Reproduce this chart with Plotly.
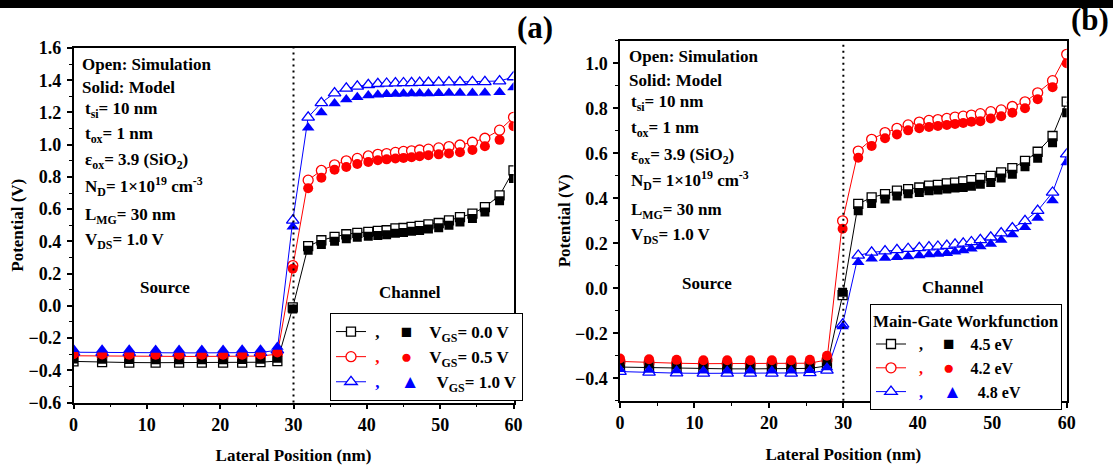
import plotly.graph_objects as go

W, H = 1113, 465
FONT = "Liberation Serif, Times New Roman, DejaVu Serif, serif"

# ---------------- data ----------------
X = [0, 3.9, 7.6, 11.2, 14.4, 17.5, 20.4, 23.0, 25.5, 27.8, 29.9,
     32.0, 33.8, 35.6, 37.2, 38.7, 40.2, 41.5, 42.7, 43.9, 45.0,
     46.1, 47.2, 48.4, 49.8, 51.2, 52.7, 54.4, 56.1, 58.1, 60.0]

# panel (a): VGS sweep, simulation (open) and model (solid)
a_sim_00 = [-0.345, -0.350, -0.352, -0.353, -0.353, -0.353, -0.353, -0.352, -0.350, -0.343, -0.010,
            0.370, 0.407, 0.428, 0.444, 0.453, 0.459, 0.465, 0.469, 0.480, 0.483,
            0.490, 0.496, 0.506, 0.514, 0.530, 0.550, 0.572, 0.613, 0.685, 0.840]
a_mod_00 = [-0.330, -0.332, -0.333, -0.334, -0.334, -0.334, -0.334, -0.333, -0.332, -0.325, -0.020,
            0.345, 0.380, 0.400, 0.416, 0.425, 0.431, 0.437, 0.441, 0.450, 0.455,
            0.462, 0.468, 0.477, 0.485, 0.500, 0.520, 0.542, 0.582, 0.652, 0.790]
a_sim_05 = [-0.310, -0.312, -0.313, -0.314, -0.314, -0.314, -0.314, -0.313, -0.312, -0.300, 0.250,
            0.780, 0.840, 0.875, 0.900, 0.915, 0.930, 0.940, 0.945, 0.952, 0.958,
            0.962, 0.967, 0.972, 0.980, 0.988, 0.998, 1.015, 1.040, 1.090, 1.170]
a_mod_05 = [-0.300, -0.302, -0.303, -0.304, -0.304, -0.304, -0.304, -0.303, -0.302, -0.290, 0.230,
            0.730, 0.795, 0.845, 0.862, 0.880, 0.893, 0.903, 0.909, 0.914, 0.918,
            0.922, 0.928, 0.934, 0.940, 0.946, 0.953, 0.967, 0.990, 1.030, 1.115]
a_sim_10 = [-0.288, -0.290, -0.291, -0.292, -0.292, -0.292, -0.292, -0.291, -0.290, -0.275, 0.530,
            1.170, 1.260, 1.320, 1.350, 1.362, 1.372, 1.378, 1.380, 1.382, 1.383,
            1.384, 1.385, 1.386, 1.387, 1.388, 1.389, 1.390, 1.390, 1.395, 1.420]
a_mod_10 = [-0.270, -0.272, -0.273, -0.274, -0.274, -0.274, -0.274, -0.273, -0.272, -0.255, 0.490,
            1.105, 1.200, 1.255, 1.280, 1.295, 1.305, 1.310, 1.313, 1.315, 1.316,
            1.317, 1.318, 1.318, 1.319, 1.320, 1.320, 1.321, 1.322, 1.325, 1.355]

# panel (b): main-gate workfunction sweep
b_sim_45 = [-0.350, -0.353, -0.356, -0.358, -0.358, -0.358, -0.358, -0.358, -0.356, -0.345, -0.030,
            0.375, 0.404, 0.419, 0.434, 0.441, 0.448, 0.456, 0.460, 0.466, 0.470,
            0.475, 0.481, 0.490, 0.500, 0.515, 0.534, 0.566, 0.607, 0.677, 0.830]
b_mod_45 = [-0.335, -0.338, -0.340, -0.342, -0.342, -0.342, -0.342, -0.342, -0.340, -0.328, -0.018,
            0.345, 0.377, 0.397, 0.410, 0.420, 0.426, 0.434, 0.437, 0.441, 0.446,
            0.448, 0.454, 0.463, 0.470, 0.490, 0.507, 0.540, 0.578, 0.647, 0.780]
b_sim_42 = [-0.325, -0.330, -0.333, -0.335, -0.335, -0.335, -0.335, -0.335, -0.333, -0.318, 0.300,
            0.610, 0.662, 0.692, 0.711, 0.726, 0.739, 0.746, 0.750, 0.755, 0.761,
            0.765, 0.770, 0.776, 0.785, 0.793, 0.808, 0.829, 0.869, 0.923, 1.040]
b_mod_42 = [-0.312, -0.315, -0.318, -0.320, -0.320, -0.320, -0.320, -0.320, -0.318, -0.300, 0.265,
            0.580, 0.633, 0.667, 0.684, 0.702, 0.711, 0.717, 0.721, 0.726, 0.730,
            0.735, 0.740, 0.743, 0.755, 0.765, 0.780, 0.800, 0.840, 0.894, 1.000]
b_sim_48 = [-0.370, -0.374, -0.377, -0.378, -0.378, -0.378, -0.378, -0.378, -0.376, -0.365, -0.160,
            0.146, 0.160, 0.165, 0.171, 0.176, 0.180, 0.183, 0.186, 0.190, 0.195,
            0.200, 0.206, 0.215, 0.227, 0.245, 0.268, 0.300, 0.345, 0.426, 0.596]
b_mod_48 = [-0.360, -0.363, -0.365, -0.366, -0.366, -0.366, -0.366, -0.366, -0.364, -0.352, -0.170,
            0.116, 0.131, 0.135, 0.138, 0.141, 0.146, 0.150, 0.153, 0.156, 0.162,
            0.168, 0.176, 0.186, 0.197, 0.215, 0.239, 0.271, 0.313, 0.390, 0.559]

a_labels = ["V<sub>GS</sub>= 0.0 V", "V<sub>GS</sub>= 0.5 V", "V<sub>GS</sub>= 1.0 V"]
b_labels = ["4.5 eV", "4.2 eV", "4.8 eV"]

COLORS = ["#000000", "#FF0000", "#0000FF"]
SYMS = ["square", "circle", "triangle-up"]
SIZES = [9, 10, 11]
GLYPHS = ["\u25A0", "\u25CF", "\u25B2"]
NB = "\u00a0"

fig = go.Figure()

def legend_name(i, label, n0, n1, n2):
    c = COLORS[i]
    return (f'{NB*n0}<span style="color:{c}">,</span>{NB*n1}'
            f'<span style="color:{c};font-size:19px">{GLYPHS[i]}</span>{NB*n2}{label}')

panels = [
    ("x", "y", "legend", [a_sim_00, a_sim_05, a_sim_10], [a_mod_00, a_mod_05, a_mod_10], a_labels, (1, 5, 4)),
    ("x2", "y2", "legend2", [b_sim_45, b_sim_42, b_sim_48], [b_mod_45, b_mod_42, b_mod_48], b_labels, (2, 5, 4)),
]

for xa, ya, lg, sims, mods, labels, gaps in panels:
    for i, ys in enumerate(sims):
        fig.add_trace(go.Scatter(
            x=X, y=ys, xaxis=xa, yaxis=ya, mode="lines+markers",
            line=dict(color=COLORS[i], width=1),
            marker=dict(symbol=SYMS[i], size=SIZES[i], color="white",
                        line=dict(color=COLORS[i], width=1.3)),
            name=legend_name(i, labels[i], *gaps), legend=lg, showlegend=True))
    for i, ys in enumerate(mods):
        fig.add_trace(go.Scatter(
            x=X, y=ys, xaxis=xa, yaxis=ya, mode="markers",
            marker=dict(symbol=SYMS[i], size=SIZES[i], color=COLORS[i],
                        line=dict(color=COLORS[i], width=0)),
            showlegend=False))

bold = dict(family=FONT, size=17, color="black", weight="bold")
tickf = dict(family=FONT, size=18, color="black", weight="bold")

def xax(domain, anchor):
    return dict(domain=domain, anchor=anchor, range=[0, 60], tick0=0, dtick=10,
                showline=True, linecolor="black", linewidth=1.5, mirror=True,
                ticks="outside", ticklen=5, tickwidth=1.5, tickcolor="black",
                ticklabelstandoff=0, automargin=False,
                minor=dict(dtick=5, ticks="outside", ticklen=3, tickwidth=1.2, tickcolor="black"),
                showgrid=False, zeroline=False, tickfont=tickf,
                title=dict(text="Lateral Position (nm)", font=bold, standoff=16))

def yax(domain, anchor, rng):
    return dict(domain=domain, anchor=anchor, range=rng, tick0=0, dtick=0.2, tickformat=".1f",
                showline=True, linecolor="black", linewidth=1.5, mirror=True,
                ticks="outside", ticklen=5, tickwidth=1.5, tickcolor="black",
                ticklabelstandoff=2, automargin=False,
                minor=dict(dtick=0.1, ticks="outside", ticklen=3, tickwidth=1.2, tickcolor="black"),
                showgrid=False, zeroline=False, tickfont=tickf,
                title=dict(text="Potential (V)", font=bold, standoff=0))

def px(x):
    return x / W

def py(y):
    return 1 - y / H

fig.update_layout(
    width=W, height=H, margin=dict(l=0, r=0, t=0, b=0, pad=0, autoexpand=False),
    paper_bgcolor="white", plot_bgcolor="white",
    font=bold,
    xaxis=xax([px(73.5), px(513.5)], "y"),
    yaxis=yax([py(402.5), py(48)], "x", [-0.6, 1.6]),
    xaxis2=xax([px(620), px(1066.7)], "y2"),
    yaxis2=yax([py(400.8), py(40.8)], "x2", [-0.5, 1.1]),
    legend=dict(x=px(330), y=py(313), xanchor="left", yanchor="top",
                bordercolor="black", borderwidth=1, bgcolor="white",
                font=bold, tracegroupgap=0),
    legend2=dict(x=px(870), y=py(304), xanchor="left", yanchor="top",
                 bordercolor="black", borderwidth=1, bgcolor="white",
                 font=dict(family=FONT, size=16, color="black", weight="bold"),
                 title=dict(text="Main-Gate Workfunction", font=bold)),
)

shapes = [
    dict(type="rect", xref="paper", yref="paper", x0=0, x1=1, y0=py(8), y1=1,
         fillcolor="black", line=dict(width=0)),
    dict(type="line", xref="x", yref="y domain", x0=30, x1=30, y0=0, y1=1,
         line=dict(color="black", width=2, dash="2px,4px")),
    dict(type="line", xref="x2", yref="y2 domain", x0=30, x1=30, y0=0, y1=1,
         line=dict(color="black", width=2, dash="2px,4px")),
]
fig.update_layout(shapes=shapes)

params = ["Open: Simulation", "Solid: Model", "t<sub>si</sub>= 10 nm", "t<sub>ox</sub>= 1 nm",
          "\u03b5<sub>ox</sub>= 3.9 (SiO<sub>2</sub>)",
          "N<sub>D</sub>= 1\u00d710<sup>19</sup> cm<sup>-3</sup>",
          "L<sub>MG</sub>= 30 nm", "V<sub>DS</sub>= 1.0 V"]
a_rows = [64, 87, 110, 135, 161, 186, 216, 241]
b_rows = [57, 80, 103, 129, 156, 181, 211, 236]
annots = []
for txt, ya_, yb_, k in zip(params, a_rows, b_rows, range(8)):
    dx = 0 if k < 2 else 2.5
    annots.append(dict(x=px(80 + dx), y=py(ya_), xref="paper", yref="paper", text=txt,
                       showarrow=False, xanchor="left", yanchor="middle", font=bold))
    annots.append(dict(x=px(626.7 + dx), y=py(yb_), xref="paper", yref="paper", text=txt,
                       showarrow=False, xanchor="left", yanchor="middle", font=bold))

for txt, x, y in [("Source", 165, 287), ("Channel", 410, 292),
                  ("Source", 707, 283), ("Channel", 953, 287)]:
    annots.append(dict(x=px(x), y=py(y), xref="paper", yref="paper", text=txt,
                       showarrow=False, xanchor="center", yanchor="middle", font=bold))

big = dict(family=FONT, size=31, color="black", weight="bold")
annots.append(dict(x=px(535), y=py(27), xref="paper", yref="paper", text="(a)",
                   showarrow=False, xanchor="center", yanchor="middle", font=big))
annots.append(dict(x=px(1090), y=py(19), xref="paper", yref="paper", text="(b)",
                   showarrow=False, xanchor="center", yanchor="middle", font=big))
fig.update_layout(annotations=annots)

fig.write_html("out.html", config={"displayModeBar": False},
               post_script="document.body.style.margin='0';document.body.style.overflow='hidden';")
